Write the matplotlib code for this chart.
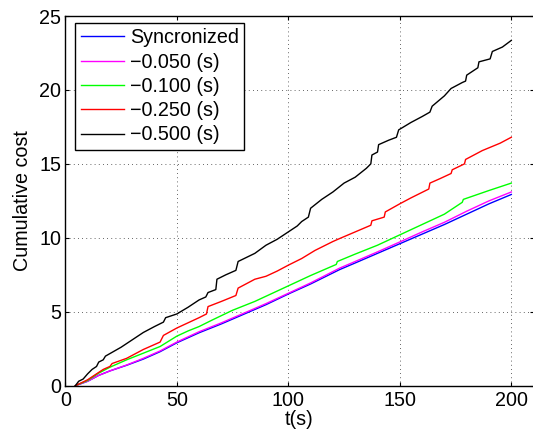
import matplotlib
matplotlib.use("Agg")
import matplotlib.pyplot as plt

plt.rcParams['font.family'] = ['Liberation Sans', 'DejaVu Sans']

# ---- data ----
t_black = [4.5, 6, 8, 10, 12, 14, 15, 17, 18, 25, 30, 35, 40, 44, 45, 50, 55, 60, 63, 64,
           67.5, 68, 72, 76.5, 77.5, 85, 90, 95, 100, 104, 106, 109, 110, 115, 120, 125,
           130, 135, 137, 137.5, 140, 140.5, 145, 148.5, 149.5, 155, 160, 163.5, 164.5,
           170, 173, 178, 179.5, 180, 185, 185.5, 190.5, 191.5, 196, 200]
v_black = [0, 0.3, 0.45, 0.8, 1.1, 1.3, 1.6, 1.75, 2.0, 2.6, 3.1, 3.6, 4.0, 4.3, 4.6, 4.85,
           5.3, 5.8, 6.0, 6.3, 6.5, 7.2, 7.5, 7.8, 8.4, 8.95, 9.5, 9.9, 10.4, 10.8, 11.1,
           11.4, 12.0, 12.6, 13.1, 13.7, 14.1, 14.7, 15.0, 15.6, 15.8, 16.3, 16.6, 16.8,
           17.3, 17.8, 18.2, 18.5, 18.9, 19.6, 20.1, 20.5, 20.6, 21.0, 21.5, 21.9, 22.1,
           22.6, 22.9, 23.35]

t_red = [4.5, 10, 15, 17, 20, 21, 27.5, 35, 42.5, 44, 50, 55, 60, 63.3, 64, 70, 76.5,
         77.5, 85, 90, 95, 100, 106, 112, 120, 123, 130, 137, 137.5, 143, 143.5, 150, 155,
         163, 163.5, 168, 173, 173.5, 179, 179.5, 187, 195, 200]
v_red = [0, 0.4, 0.9, 1.1, 1.3, 1.5, 1.85, 2.45, 2.95, 3.4, 3.9, 4.25, 4.6, 4.85, 5.35,
         5.7, 6.1, 6.6, 7.2, 7.4, 7.75, 8.15, 8.6, 9.15, 9.75, 9.95, 10.4, 10.85, 11.15,
         11.4, 11.75, 12.3, 12.7, 13.3, 13.7, 14.0, 14.35, 14.6, 15.0, 15.3, 15.9, 16.4,
         16.8]

t_green = [4.5, 10, 15, 20, 27.5, 35, 42.5, 50, 55, 60, 66, 75, 85, 100, 110, 121.5, 122,
           130, 140, 150, 160, 170, 178, 178.5, 190, 200]
v_green = [0, 0.35, 0.85, 1.25, 1.75, 2.2, 2.65, 3.35, 3.7, 4.0, 4.45, 5.1, 5.7, 6.75, 7.45,
           8.2, 8.4, 8.9, 9.5, 10.2, 10.9, 11.6, 12.4, 12.6, 13.2, 13.7]

t_mag = [4.5, 10, 15, 20, 27.5, 35, 42.5, 50, 60, 70, 80, 90, 100, 110, 123, 130, 140, 150,
         160, 170, 180, 190, 200]
v_mag = [0, 0.3, 0.7, 1.0, 1.4, 1.85, 2.35, 2.95, 3.65, 4.25, 4.9, 5.55, 6.25, 6.95, 7.95,
         8.4, 9.05, 9.72, 10.4, 11.05, 11.8, 12.5, 13.1]

t_blue = [4.5, 10, 15, 20, 27.5, 35, 42.5, 50, 60, 70, 80, 90, 100, 110, 123, 130, 140, 150,
          160, 170, 180, 190, 200]
v_blue = [0, 0.3, 0.7, 1.0, 1.38, 1.8, 2.3, 2.9, 3.58, 4.18, 4.83, 5.48, 6.2, 6.88, 7.85,
          8.3, 8.95, 9.6, 10.25, 10.9, 11.6, 12.3, 12.93]

labels = ['Syncronized', '\u22120.050 (s)', '\u22120.100 (s)', '\u22120.250 (s)', '\u22120.500 (s)']
colors = ['#0000ff', '#ff00ff', '#00ff00', '#ff0000', '#000000']
x_ticks = [0, 50, 100, 150, 200]
y_ticks = [0, 5, 10, 15, 20, 25]

# ---- figure ----
W, H = 533, 438
fig = plt.figure(figsize=(W / 100, H / 100), dpi=100)
left, right, top, bottom = 65.3, 533.6, 16.0, 385.7
ax = fig.add_axes([left / W, (H - bottom) / H, (right - left) / W, (bottom - top) / H])

series = [(t_blue, v_blue), (t_mag, v_mag), (t_green, v_green), (t_red, v_red), (t_black, v_black)]
for (t, v), c, lab in zip(series, colors, labels):
    ax.plot(t, v, color=c, lw=1.0, label=lab)

FS = 14.2
ax.set_xlim(0, 210)
ax.set_ylim(0, 25)
ax.set_xticks(x_ticks)
ax.set_yticks(y_ticks)
ax.grid(True, linestyle=(0, (1, 4)), color='#333333', lw=0.6)
ax.tick_params(direction='in', length=3, width=0.8, labelsize=FS, top=True, right=True,
               pad=4)
ax.tick_params(axis='y', pad=3)
for s in ax.spines.values():
    s.set_linewidth(1.0)

ax.set_xlabel('t(s)', fontsize=FS, labelpad=0)
ax.set_ylabel('Cumulative cost', fontsize=FS, labelpad=5)

leg = ax.legend(loc='upper left', bbox_to_anchor=(0.0207, 0.982), fontsize=FS,
                frameon=True, fancybox=False, edgecolor='black', framealpha=1,
                handlelength=2.2, handletextpad=0.3, labelspacing=0.27,
                borderpad=0.28, borderaxespad=0)
leg.get_frame().set_linewidth(1.0)

fig.savefig('out.png', dpi=100)
